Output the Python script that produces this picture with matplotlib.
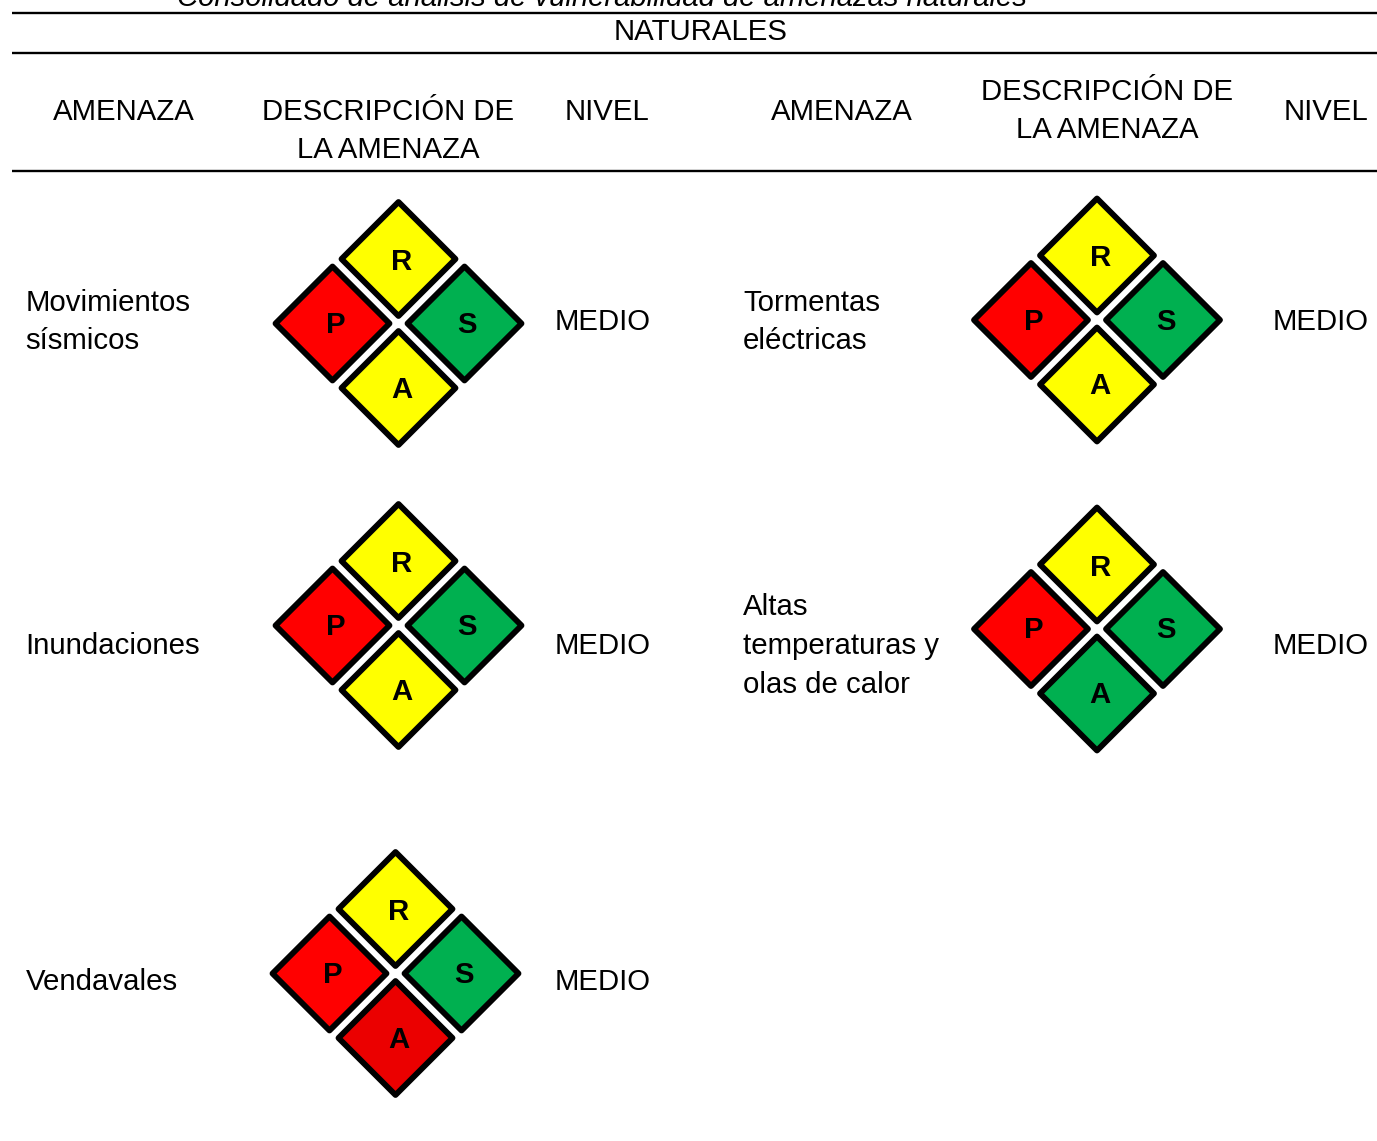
import matplotlib
matplotlib.use("Agg")
import matplotlib.pyplot as plt
from matplotlib.patches import Polygon

plt.rcParams['font.family'] = ['Liberation Sans', 'DejaVu Sans']

# ---- data ----
title = "Consolidado de análisis de vulnerabilidad de amenazas naturales"
section = "NATURALES"
threats = ["Movimientos\nsísmicos", "Inundaciones", "Vendavales",
           "Tormentas\neléctricas", "Altas\ntemperaturas y\nolas de calor"]
levels = ["MEDIO", "MEDIO", "MEDIO", "MEDIO", "MEDIO"]
risk_letters = ["R", "P", "S", "A"]
risk_R = ["yellow", "yellow", "yellow", "yellow", "yellow"]
risk_P = ["red", "red", "red", "red", "red"]
risk_S = ["green", "green", "green", "green", "green"]
risk_A = ["yellow", "yellow", "darkred", "yellow", "green"]

# ---- palette / layout ----
palette = {"yellow": "#FFFF00", "red": "#FF0000", "green": "#00B050", "darkred": "#EB0000"}
W, H = 1377, 1141
fig = plt.figure(figsize=(W / 100, H / 100), dpi=100)
ax = fig.add_axes([0, 0, 1, 1])
ax.set_xlim(0, W)
ax.set_ylim(H, 0)
ax.axis("off")

FS = 21.2
LS = 1.48
centers = [(398.5, 323.5), (398.5, 625.5), (395.5, 973.5), (1097, 320), (1097, 629)]
threat_pos = [(25.5, 322), (25.5, 646), (25.5, 982.5), (743, 322), (743, 646)]
level_pos = [(602.5, 322), (602.5, 646), (602.5, 982.5), (1320.5, 322), (1320.5, 646)]
offsets = {"R": (0, -64.5), "P": (-66, 0), "S": (66, 0), "A": (0, 64.5)}
label_nudge = {"R": (3.2, 3), "P": (3.2, 1.5), "S": (2.5, 1.5), "A": (3.2, 1.5)}
R_HALF = 57

# rules
for y in (12.5, 53, 171):
    ax.plot([12, W], [y, y], color="black", lw=1.7, solid_capstyle="butt")

# clipped caption and headers
ax.text(602, 5.5, title, ha="center", va="baseline", style="italic", fontsize=21.1, color="black", clip_on=True)
ax.text(701, 32.5, section, ha="center", va="center", fontsize=FS)
tb = dict(ha="center", va="center", fontsize=FS, linespacing=LS)
ax.text(123.5, 112, "AMENAZA", **tb)
ax.text(388, 131, "DESCRIPCIÓN DE\nLA AMENAZA", **tb)
ax.text(607, 112, "NIVEL", **tb)
ax.text(841.5, 112, "AMENAZA", **tb)
ax.text(1107, 111, "DESCRIPCIÓN DE\nLA AMENAZA", **tb)
ax.text(1325.5, 112, "NIVEL", **tb)

# body rows
for i, name in enumerate(threats):
    ax.text(*threat_pos[i], name, ha="left", va="center", fontsize=FS, linespacing=LS)
    ax.text(*level_pos[i], levels[i], ha="center", va="center", fontsize=FS)
    cx, cy = centers[i]
    colors = {"R": risk_R[i], "P": risk_P[i], "S": risk_S[i], "A": risk_A[i]}
    for L in risk_letters:
        dx, dy = offsets[L]
        x, y = cx + dx, cy + dy
        ax.add_patch(Polygon([(x, y - R_HALF), (x + R_HALF, y), (x, y + R_HALF), (x - R_HALF, y)],
                             closed=True, facecolor=palette[colors[L]], edgecolor="black",
                             linewidth=4.2, joinstyle="round"))
        nx, ny = label_nudge[L]
        ax.text(x + nx, y + ny, L, ha="center", va="center", fontsize=FS, fontweight="bold", color="black")

fig.savefig("out.png", dpi=100)
